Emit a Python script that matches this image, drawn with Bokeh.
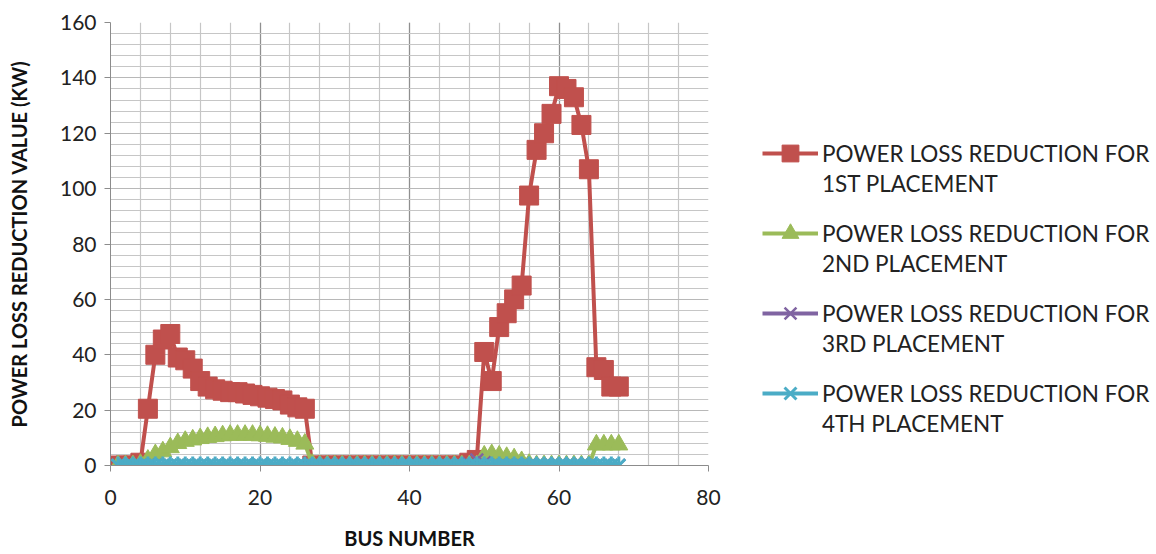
from bokeh.plotting import figure
from bokeh.layouts import row
from bokeh.models import FixedTicker, Legend, LegendItem, Range1d
from bokeh.embed import file_html
from bokeh.resources import INLINE

bus = list(range(1, 69))

loss_1st = [0, 0, 0, 1,
            20.5, 40, 45.5, 47.5, 39, 38, 35, 30.5, 28.5, 27.5,
            27, 26.5, 26.5, 26, 25.5, 25, 24.5, 24, 23.5, 22, 21, 20.5,
            0, 0, 0, 0, 0, 0, 0, 0, 0, 0, 0, 0, 0, 0, 0, 0, 0, 0, 0, 0, 0,
            1, 2,
            41, 30.5, 50, 55, 60, 65, 97.5, 114, 120, 127,
            137, 136, 133, 123, 107, 35.5, 34.5, 28.5, 28.5]

loss_2nd = [0, 0, 0, 0.5,
            2, 4, 5, 6.5, 8, 8.8, 9.3, 9.8, 10.2, 10.5,
            10.8, 11, 11, 11, 11, 10.8, 10.6, 10.3, 10, 9.5, 8.8, 7.8,
            0.5, 0, 0, 0, 0, 0, 0, 0, 0, 0, 0, 0, 0, 0, 0, 0, 0, 0, 0, 0, 0,
            0, 0,
            3.5, 4, 3.5, 3, 2.5, 1.5, 0.5, 0, 0, 0,
            0, 0, 0, 0, 0, 7.5, 7.5, 7.5, 7.5]

loss_3rd = [0] * 47 + [0.5, 2, 1] + [0] * 18

loss_4th = [0] * 68

x_ticks = [0, 20, 40, 60, 80]
y_ticks = [0, 20, 40, 60, 80, 100, 120, 140, 160]
x_minor = list(range(0, 81, 4))
y_minor = list(range(0, 161, 4))

label_line1 = "POWER LOSS REDUCTION FOR"
label_line2 = ["1ST PLACEMENT", "2ND PLACEMENT", "3RD PLACEMENT", "4TH PLACEMENT"]

FONT = "Lato"
RED, GREEN, PURPLE, CYAN = "#C0504D", "#9BBB59", "#8064A2", "#4BACC6"

p = figure(width=730, height=554, output_backend="svg", toolbar_location=None,
           x_range=Range1d(0, 80), y_range=Range1d(0, 160),
           min_border_left=110, min_border_top=22, min_border_bottom=89,
           min_border_right=22)
p.outline_line_color = None

for ax in (p.xaxis[0], p.yaxis[0]):
    ax.axis_line_color = "#8c8c8c"
    ax.major_tick_line_color = "#8c8c8c"
    ax.major_tick_out = 6
    ax.major_tick_in = 0
    ax.minor_tick_line_color = None
    ax.major_label_text_font = FONT
    ax.major_label_text_font_size = "21px"
    ax.major_label_text_color = "#222222"
    ax.axis_label_text_font = FONT
    ax.axis_label_text_font_style = "bold"
    ax.axis_label_text_font_size = "20px"
    ax.axis_label_text_color = "#111111"

p.xaxis.ticker = FixedTicker(ticks=x_ticks, minor_ticks=x_minor)
p.yaxis.ticker = FixedTicker(ticks=y_ticks, minor_ticks=y_minor)
p.xaxis.axis_label = "BUS NUMBER"
p.yaxis.axis_label = "POWER LOSS REDUCTION VALUE (KW)"
p.xaxis.major_label_standoff = 18
p.xaxis.axis_label_standoff = 18
p.yaxis.major_label_standoff = 8
p.yaxis.axis_label_standoff = 26

p.xgrid.grid_line_color = "#8f8f8f"
p.xgrid.minor_grid_line_color = "#c6c6c6"
p.ygrid.grid_line_color = "#b8b8b8"
p.ygrid.minor_grid_line_color = "#c6c6c6"
for g in (p.xgrid[0], p.ygrid[0]):
    g.grid_line_width = 1.2
    g.minor_grid_line_width = 1.2

series = [
    (loss_1st, RED, "square"),
    (loss_2nd, GREEN, "triangle"),
    (loss_3rd, PURPLE, "x"),
    (loss_4th, CYAN, "star4"),
]


def draw(fig, xs, ys, color, kind):
    rs = [fig.line(xs, ys, line_color=color, line_width=4)]
    if kind == "square":
        rs.append(fig.scatter(xs, ys, marker="square", size=19, fill_color=color, line_color=color))
    elif kind == "triangle":
        rs.append(fig.scatter(xs, ys, marker="triangle", size=18, fill_color=color, line_color=color))
    elif kind == "x":
        rs.append(fig.scatter(xs, ys, marker="x", size=18, line_color=color, line_width=2.5))
    else:
        rs.append(fig.scatter(xs, ys, marker="x", size=18, line_color=color, line_width=3))
        rs.append(fig.scatter(xs, ys, marker="dash", size=18, angle=1.5708,
                              line_color=color, line_width=3))
    return rs


for ys, color, kind in series:
    draw(p, bus, ys, color, kind)

# legend panel (separate figure so that the legend is not clipped)
q = figure(width=426, height=554, output_backend="svg", toolbar_location=None,
           x_range=Range1d(0, 1), y_range=Range1d(0, 1),
           x_axis_location=None, y_axis_location=None,
           min_border_left=0, min_border_right=0, min_border_top=0, min_border_bottom=0)
q.outline_line_color = None
q.grid.visible = False

off_x = [-10, -11]
off_y = [-10, -11]
blank = q.scatter(off_x, off_y, marker="square", size=1, fill_alpha=0, line_alpha=0)


def style(lg, gh):
    lg.border_line_color = None
    lg.background_fill_alpha = 0
    lg.padding = 0
    lg.margin = 0
    lg.spacing = 0
    lg.glyph_width = 56
    lg.glyph_height = gh
    lg.label_height = gh
    lg.label_standoff = 4
    lg.label_text_font = FONT
    lg.label_text_font_size = "22.5px"
    lg.label_text_color = "#222222"


for i, (ys, color, kind) in enumerate(series):
    rs = draw(q, off_x, off_y, color, kind)
    top = Legend(items=[LegendItem(label=label_line1, renderers=rs)],
                 location=(32, 291 - 80 * i))
    style(top, 42)
    q.add_layout(top, "center")
    bottom = Legend(items=[LegendItem(label=label_line2[i], renderers=[blank])],
                    location=(32, 267 - 80 * i))
    style(bottom, 30)
    q.add_layout(bottom, "center")

open("out.html", "w").write(file_html(row(p, q), INLINE))
